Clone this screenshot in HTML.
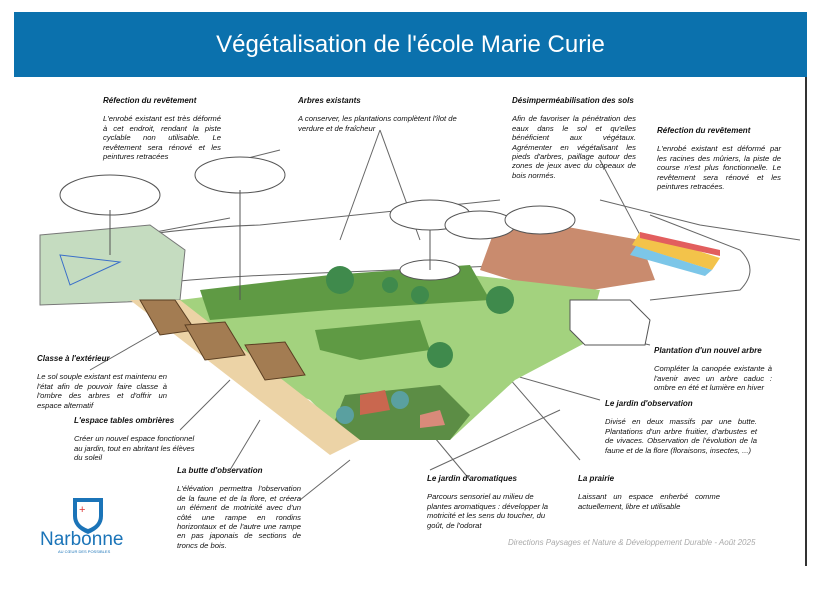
<!DOCTYPE html>
<html><head><meta charset="utf-8"><style>
body{margin:0;width:824px;height:600px;background:#fff;position:relative;overflow:hidden;font-family:"Liberation Sans",sans-serif}
.hdr{position:absolute;left:14px;top:12px;width:793px;height:65px;background:#0b71ad;color:#fff;font-size:24px;text-align:center;line-height:66px}
.vl{position:absolute;left:805px;top:77px;width:2px;height:489px;background:#333}
.t{position:absolute;font-size:7.65px;font-style:italic;color:#111;line-height:9.4px;text-align:justify}
.t b{display:block;font-size:8px;margin-bottom:9px;text-align:left;white-space:nowrap}
svg{position:absolute;left:0;top:0}
</style></head><body>
<div class="hdr">Végétalisation de l'école Marie Curie</div>
<div class="vl"></div>
<svg width="824" height="600" viewBox="0 0 824 600">
<g fill="none" stroke="#666" stroke-width="1">
<path d="M40 260 Q120 230 260 225 L500 200 M40 300 Q150 280 270 275 L520 265 M60 250 L230 218 M650 215 L740 250 Q760 270 740 290 L650 300 M600 200 L700 225 L800 240"/>
<path d="M240 160 L280 150 M380 130 L340 240 M380 130 L420 240 M600 160 L640 235 M455 300 L650 345 M450 310 L580 460 M390 340 L600 400 M160 330 L90 370 M230 380 L180 430 M260 420 L230 470 M420 420 L470 480 M350 460 L300 500 M430 470 L560 410"/>
</g>
<polygon points="40,235 150,225 185,250 180,300 40,305" fill="#c5dcc0" stroke="#777"/>
<polygon points="60,255 120,262 70,285" fill="none" stroke="#3a6fc9"/>
<polygon points="500,215 640,240 655,280 560,295 480,270" fill="#c98b6e"/>
<polygon points="640,232 720,258 712,270 632,245" fill="#f3c34a"/>
<polygon points="640,232 720,250 720,256 640,238" fill="#e25e5e"/>
<polygon points="636,246 712,270 705,276 630,255" fill="#7cc6e8"/>
<polygon points="180,300 300,285 470,275 600,290 585,343 515,380 450,440 350,440 310,400 220,360 180,330" fill="#a3d27e"/>
<polygon points="200,290 330,275 470,265 490,300 330,310 210,320" fill="#5f9a44"/>
<polygon points="315,330 420,320 430,350 360,360 320,350" fill="#5f9a44"/>
<polygon points="345,395 440,385 470,415 450,440 355,440 335,420" fill="#5c8d45"/>
<polygon points="360,395 385,390 390,410 360,415" fill="#c9674f"/>
<polygon points="420,415 440,410 445,425 420,428" fill="#d98a7a"/>
<circle cx="345" cy="415" r="9" fill="#5aa0a0"/><circle cx="400" cy="400" r="9" fill="#5aa0a0"/>
<polygon points="130,300 180,300 360,440 330,455" fill="#ecd3a6"/>
<g fill="#a37c52" stroke="#5a3e22">
<polygon points="140,300 175,300 195,330 160,335"/>
<polygon points="185,325 225,322 245,355 205,360"/>
<polygon points="245,345 285,342 305,375 265,380"/>
</g>
<g fill="#fff" stroke="#555">
<ellipse cx="110" cy="195" rx="50" ry="20"/><ellipse cx="240" cy="175" rx="45" ry="18"/>
<ellipse cx="430" cy="215" rx="40" ry="15"/><ellipse cx="480" cy="225" rx="35" ry="14"/>
<ellipse cx="540" cy="220" rx="35" ry="14"/><ellipse cx="430" cy="270" rx="30" ry="10"/>
<polygon points="570,300 630,300 650,320 645,345 585,345 570,330"/>
</g>
<g stroke="#555" fill="none"><path d="M110 210 L110 255 M240 190 L240 300 M430 230 L430 270"/></g>
<g fill="#3f8a4c"><circle cx="340" cy="280" r="14"/><circle cx="500" cy="300" r="14"/><circle cx="440" cy="355" r="13"/><circle cx="390" cy="285" r="8"/><circle cx="420" cy="295" r="9"/></g>
<g transform="translate(73,498)"><path d="M0 0 H30 V18 Q30 30 15 36 Q0 30 0 18 Z" fill="#1b74b8"/><path d="M4 4 H26 V18 Q26 27 15 31 Q4 27 4 18 Z" fill="#fff"/><text x="6" y="15" fill="#d33" font-size="11">+</text></g>
<text x="40" y="545" fill="#1b74b8" font-size="19" font-family="Liberation Sans">Narbonne</text>
<text x="58" y="553" fill="#1b74b8" font-size="4">AU CŒUR DES POSSIBLES</text>
<text x="508" y="545" fill="#aaa" font-size="8" font-style="italic">Directions Paysages et Nature &amp; Développement Durable - Août 2025</text>
</svg>
<div class="t" style="left:103px;top:96px;width:118px"><b>Réfection du revêtement</b>L'enrobé existant est très déformé à cet endroit, rendant la piste cyclable non utilisable. Le revêtement sera rénové et les peintures retracées</div>
<div class="t" style="left:298px;top:96px;width:160px;text-align:left"><b>Arbres existants</b>A conserver, les plantations complètent l'îlot de verdure et de fraîcheur</div>
<div class="t" style="left:512px;top:96px;width:124px"><b>Désimperméabilisation des sols</b>Afin de favoriser la pénétration des eaux dans le sol et qu'elles bénéficient aux végétaux. Agrémenter en végétalisant les pieds d'arbres, paillage autour des zones de jeux avec du copeaux de bois normés.</div>
<div class="t" style="left:657px;top:126px;width:124px"><b>Réfection du revêtement</b>L'enrobé existant est déformé par les racines des mûriers, la piste de course n'est plus fonctionnelle. Le revêtement sera rénové et les peintures retracées.</div>
<div class="t" style="left:37px;top:354px;width:130px"><b>Classe à l'extérieur</b>Le sol souple existant est maintenu en l'état afin de pouvoir faire classe à l'ombre des arbres et d'offrir un espace alternatif</div>
<div class="t" style="left:74px;top:416px;width:130px;text-align:left"><b>L'espace tables ombrières</b>Créer un nouvel espace fonctionnel au jardin, tout en abritant les élèves du soleil</div>
<div class="t" style="left:177px;top:466px;width:124px"><b>La butte d'observation</b>L'élévation permettra l'observation de la faune et de la flore, et créera un élément de motricité avec d'un côté une rampe en rondins horizontaux et de l'autre une rampe en pas japonais de sections de troncs de bois.</div>
<div class="t" style="left:654px;top:346px;width:118px"><b>Plantation d'un nouvel arbre</b>Compléter la canopée existante à l'avenir avec un arbre caduc : ombre en été et lumière en hiver</div>
<div class="t" style="left:605px;top:399px;width:152px"><b>Le jardin d'observation</b>Divisé en deux massifs par une butte. Plantations d'un arbre fruitier, d'arbustes et de vivaces. Observation de l'évolution de la faune et de la flore (floraisons, insectes, ...)</div>
<div class="t" style="left:427px;top:474px;width:124px;text-align:left"><b>Le jardin d'aromatiques</b>Parcours sensoriel au milieu de plantes aromatiques : développer la motricité et les sens du toucher, du goût, de l'odorat</div>
<div class="t" style="left:578px;top:474px;width:142px"><b>La prairie</b>Laissant un espace enherbé comme actuellement, libre et utilisable</div>
</body></html>
